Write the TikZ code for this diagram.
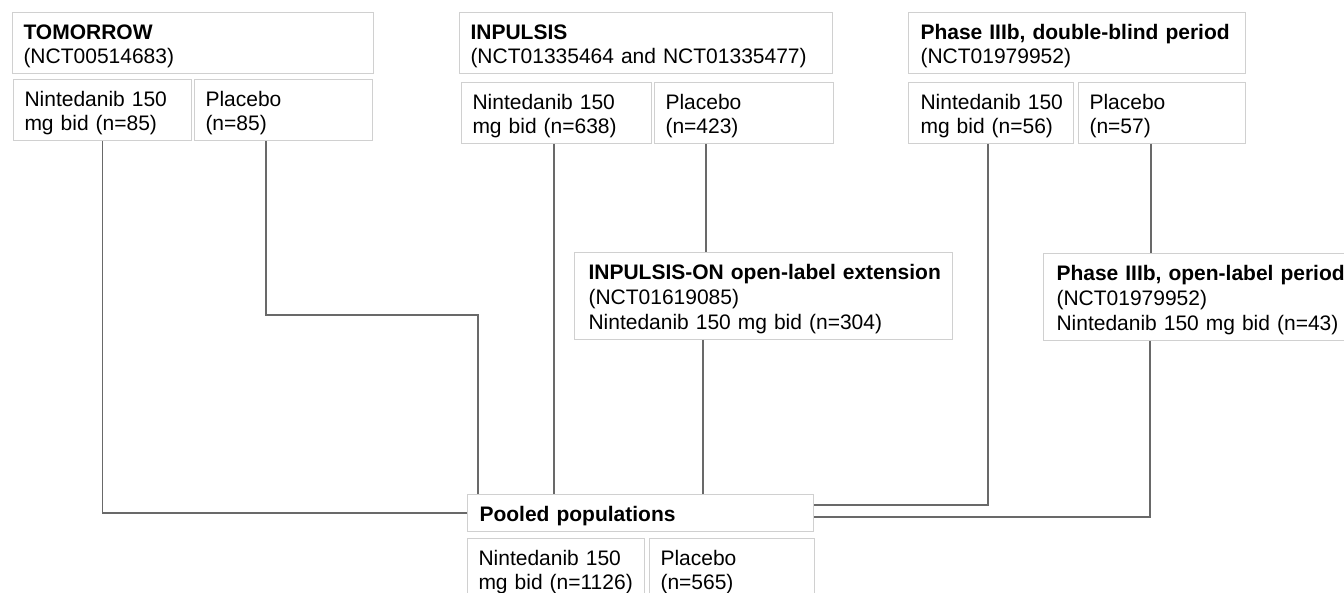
\documentclass[tikz,border=0pt]{standalone}
\usepackage{fontspec}
\setmainfont{Liberation Sans}
\definecolor{boxgray}{RGB}{208,208,208}
\definecolor{linegray}{RGB}{105,105,105}
\tikzset{
  bx/.style={draw=boxgray, line width=1pt, anchor=north west, align=left,
    inner xsep=11pt, inner ysep=0pt, font=\fontsize{21}{24.8}\selectfont,
    execute at begin node={\hyphenpenalty=10000\exhyphenpenalty=10000\leavevmode\rule{0pt}{21.5pt}}},
  conn/.style={draw=linegray, line width=1.4pt}
}
\begin{document}
\begin{tikzpicture}[x=1pt,y=-1pt]
\useasboundingbox (0,0) rectangle (1344,593);
\clip (0,0) rectangle (1344,593);
\fill[white] (0,0) rectangle (1344,593);
% TOMORROW
\node[bx, text width=339pt, minimum height=61pt] (tomH) at (12,12) {\textbf{TOMORROW}\\(NCT00514683)};
\node[bx, text width=156pt, minimum height=61pt] (tomN) at (13,79) {Nintedanib~150\\mg~bid~(n=85)};
\node[bx, text width=156pt, minimum height=61pt] (tomP) at (194,79) {Placebo\\(n=85)};
% INPULSIS
\node[bx, text width=351pt, minimum height=61pt] (inpH) at (459,12) {\textbf{INPULSIS}\\(NCT01335464~and~NCT01335477)};
\node[bx, text width=168pt, minimum height=61pt] (inpN) at (461,82) {Nintedanib~150\\mg~bid~(n=638)};
\node[bx, text width=157pt, minimum height=61pt] (inpP) at (654,82) {Placebo\\(n=423)};
% Phase IIIb DB
\node[bx, text width=313pt, inner xsep=12pt, minimum height=61pt] (phH) at (908,12) {\textbf{Phase~IIIb,~double-blind~period}\\(NCT01979952)};
\node[bx, text width=141pt, inner xsep=12pt, minimum height=61pt] (phN) at (908,82) {Nintedanib~150\\mg~bid~(n=56)};
\node[bx, text width=145pt, minimum height=61pt] (phP) at (1078,82) {Placebo\\(n=57)};
% open-label
\node[bx, text width=350pt, inner xsep=14pt, minimum height=87pt] (onH) at (574,252) {\mbox{\textbf{INPULSIS-ON open-label extension}}\\(NCT01619085)\\\mbox{Nintedanib 150 mg bid (n=304)}};
\node[bx, text width=314pt, inner xsep=13pt, minimum height=87pt] (olH) at (1043,253) {\mbox{\textbf{Phase IIIb, open-label period}}\\(NCT01979952)\\\mbox{Nintedanib 150 mg bid (n=43)}};
% pooled
\node[bx, text width=322pt, inner xsep=12pt, minimum height=37pt] (poolH) at (467,494) {\textbf{Pooled~populations}};
\node[bx, text width=155pt, minimum height=61pt] (poolN) at (467,538) {Nintedanib~150\\mg~bid~(n=1126)};
\node[bx, text width=143pt, minimum height=61pt] (poolP) at (649,538) {Placebo\\(n=565)};
% connector coordinates
\coordinate (k1) at (266,315);
\coordinate (k2) at (478,315);
\coordinate (c3) at (554,0);
\coordinate (c4) at (706,0);
\coordinate (c5) at (703,0);
\coordinate (k6) at (988,505);
\coordinate (c7) at (1151,0);
\coordinate (k8) at (1150,517);
% connectors
\draw[conn] (tomN.south) |- (poolH.west);
\draw[conn] (tomP.south -| k1) -- (k1) -- (k2) -- (poolH.north -| k2);
\draw[conn] (inpN.south -| c3) -- (poolH.north -| c3);
\draw[conn] (inpP.south -| c4) -- (onH.north -| c4);
\draw[conn] (onH.south -| c5) -- (poolH.north -| c5);
\draw[conn] (phN.south -| k6) -- (k6) -- (poolH.east |- k6);
\draw[conn] (phP.south -| c7) -- (olH.north -| c7);
\draw[conn] (olH.south -| k8) -- (k8) -- (poolH.east |- k8);
\end{tikzpicture}
\end{document}
